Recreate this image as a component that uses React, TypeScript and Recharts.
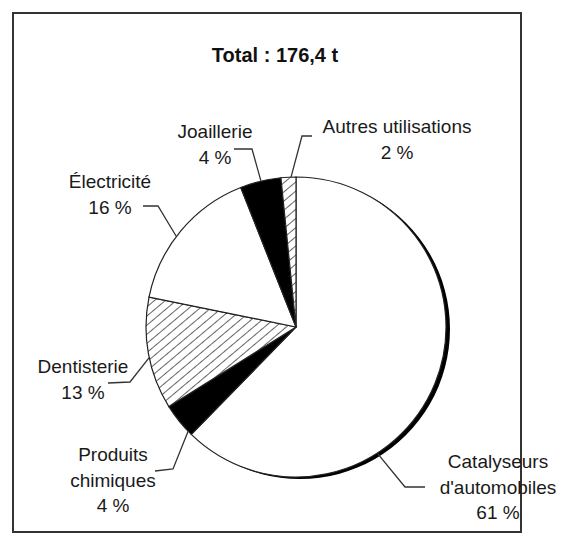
import React from 'react';
import { PieChart, Pie, Cell } from 'recharts';

// Slices, clockwise from 12 o'clock
const categories = [
  "Catalyseurs d'automobiles",
  'Produits chimiques',
  'Dentisterie',
  'Électricité',
  'Joaillerie',
  'Autres utilisations',
];
// share of total (%), as measured from slice angles
const shares = [62.3, 3.8, 12.1, 15.8, 4.4, 1.6];
const nameLines = [
  ['Catalyseurs', "d'automobiles"],
  ['Produits', 'chimiques'],
  ['Dentisterie'],
  ['Électricité'],
  ['Joaillerie'],
  ['Autres utilisations'],
];
const pctLabels = ['61 %', '4 %', '13 %', '16 %', '4 %', '2 %'];
const totalLabel = 'Total : 176,4 t';

const fills = ['#ffffff', '#000000', 'url(#hatch)', '#ffffff', '#000000', 'url(#hatch)'];

const data = categories.map((name, i) => ({ name, value: shares[i] }));
const shadowData = [{ name: 'shadow', value: 1 }];

// label layout: anchor angle (deg clockwise from top), elbow & tail offsets from centre, text centre
const labelLayout = [
  { a: 147.2, elbow: [109, 160], tail: [129, 160], tx: 202, ty: 141 },
  { a: 226, elbow: [-123, 142], tail: [-141, 144], tx: -183, ty: 134 },
  { a: 258.2, elbow: [-166, 55], tail: [-188, 56], tx: -213, ty: 46 },
  { a: 307.1, elbow: [-138, -121], tail: [-153, -121], tx: -186, ty: -139 },
  { a: 346.5, elbow: [-44, -178], tail: [-62, -178], tx: -81, ty: -189 },
  { a: 358.1, elbow: [6, -191], tail: [16, -191], tx: 101, ty: -194 },
];
const lineGap = 25.5;

const FONT = '"Liberation Sans", Arial, Helvetica, sans-serif';
const CX = 296;
const CY = 327;
const R = 150;

const renderLabel = (props: any) => {
  const { index } = props;
  const cx = Number(props.cx);
  const cy = Number(props.cy);
  const r = Number(props.outerRadius);
  const L = labelLayout[index];
  if (!L) return null;
  const rad = (L.a * Math.PI) / 180;
  const sx = cx + r * Math.sin(rad);
  const sy = cy - r * Math.cos(rad);
  const lines = [...nameLines[index], pctLabels[index]];
  return (
    <g key={`lbl-${index}`}>
      <path
        d={`M${sx},${sy} L${cx + L.elbow[0]},${cy + L.elbow[1]} L${cx + L.tail[0]},${cy + L.tail[1]}`}
        fill="none"
        stroke="#333"
        strokeWidth={1.3}
      />
      {lines.map((t, k) => (
        <text
          key={k}
          x={cx + L.tx}
          y={cy + L.ty + k * lineGap}
          textAnchor="middle"
          fontFamily={FONT}
          fontSize={19}
          fill="#1a1a1a"
        >
          {t}
        </text>
      ))}
    </g>
  );
};

export default function App() {
  return (
    <div style={{ position: 'absolute', left: 0, top: 0, width: 573, height: 533, background: '#fff' }}>
      <svg width={0} height={0} style={{ position: 'absolute' }}>
        <defs>
          <pattern id="hatch" patternUnits="userSpaceOnUse" width={7} height={7} patternTransform="rotate(50)">
            <rect x={0} y={0} width={7} height={7} fill="#fff" />
            <line x1={0} y1={0} x2={0} y2={7} stroke="#222" strokeWidth={1.4} />
          </pattern>
        </defs>
      </svg>
      <div
        style={{
          position: 'absolute',
          left: 12,
          top: 12,
          width: 510,
          height: 521,
          border: '2px solid #333',
          boxSizing: 'border-box',
        }}
      />
      <div style={{ position: 'absolute', left: 0, top: 0 }}>
        <PieChart width={573} height={533} margin={{ top: 0, right: 0, bottom: 0, left: 0 }}>
          <text x={275} y={62} textAnchor="middle" fontFamily={FONT} fontSize={20} fontWeight="bold" fill="#111">
            {totalLabel}
          </text>
          <Pie
            data={shadowData}
            dataKey="value"
            cx={CX + 4}
            cy={CY + 2}
            outerRadius={R}
            startAngle={90}
            endAngle={-270}
            stroke="none"
            fill="#000"
            isAnimationActive={false}
          />
          <Pie
            data={data}
            dataKey="value"
            nameKey="name"
            cx={CX}
            cy={CY}
            outerRadius={R}
            startAngle={90}
            endAngle={-270}
            stroke="#222"
            strokeWidth={1.2}
            labelLine={false}
            label={renderLabel}
            isAnimationActive={false}
          >
            {data.map((d, i) => (
              <Cell key={d.name} fill={fills[i]} />
            ))}
          </Pie>
        </PieChart>
      </div>
    </div>
  );
}
